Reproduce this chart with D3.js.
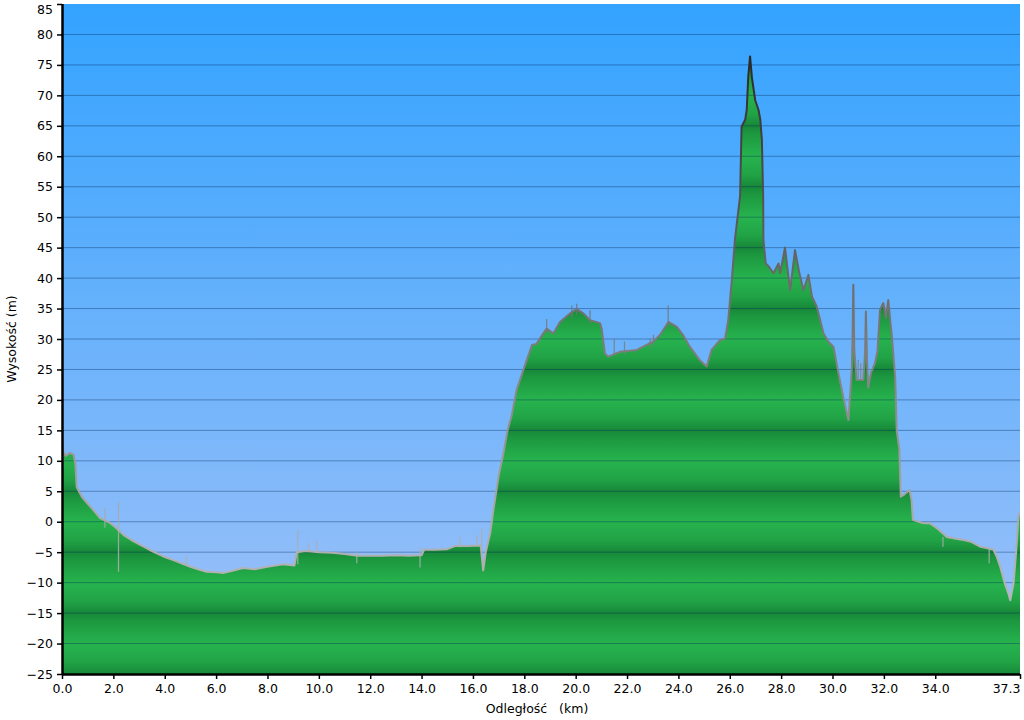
<!DOCTYPE html>
<html><head><meta charset="utf-8">
<script src="https://cdn.jsdelivr.net/npm/d3@7"></script>
<style>
html,body{margin:0;padding:0;background:#fff;}
svg{display:block;font-family:Verdana,"DejaVu Sans",sans-serif;}
</style></head>
<body>
<svg id="chart" width="1024" height="720"></svg>
<script>
// ---- data ----
const distKm = [0.0,0.05,0.15,0.3,0.45,0.52,0.57,0.77,0.95,1.1,1.3,1.48,1.87,2.1,2.4,2.7,3.05,3.4,3.69,4.0,4.33,4.7,5.0,5.3,5.63,6.0,6.3,6.6,7.05,7.5,8.0,8.6,9.05,9.14,9.5,10.0,10.5,11.0,11.5,12.0,12.5,13.0,13.5,14.0,14.1,14.5,15.0,15.3,15.8,16.3,16.4,16.5,16.67,16.8,17.0,17.2,17.35,17.51,17.7,17.96,18.3,18.48,18.61,18.87,19.13,19.39,19.78,20.04,20.3,20.56,20.95,21.01,21.14,21.27,21.73,22.38,23.03,23.29,23.61,23.94,24.2,24.45,24.84,25.1,25.29,25.62,25.82,25.94,26.08,26.2,26.4,26.46,26.6,26.66,26.72,26.79,26.86,26.99,27.12,27.19,27.25,27.3,27.31,27.4,27.5,27.7,27.9,27.96,28.15,28.35,28.54,28.7,28.87,29.06,29.2,29.39,29.65,29.85,30.04,30.23,30.42,30.62,30.75,30.78,30.81,30.85,30.94,31.2,31.27,31.3,31.34,31.39,31.5,31.65,31.75,31.85,31.98,32.08,32.17,32.31,32.44,32.5,32.6,32.66,32.8,33.0,33.08,33.13,33.5,33.8,34.1,34.45,34.8,35.1,35.4,35.75,36.0,36.27,36.4,36.53,36.7,36.85,36.92,37.05,37.15,37.24,37.3];
const elevM = [10.2,11.5,10.8,11.3,11.0,9.5,5.7,4.1,3.2,2.5,1.5,0.6,-0.2,-1.0,-2.2,-3.0,-3.8,-4.6,-5.2,-5.8,-6.3,-6.9,-7.4,-7.8,-8.2,-8.3,-8.4,-8.1,-7.6,-7.8,-7.4,-7.0,-7.2,-5.0,-4.8,-5.0,-5.1,-5.3,-5.6,-5.6,-5.6,-5.5,-5.6,-5.5,-4.6,-4.6,-4.5,-4.0,-4.0,-3.9,-8.0,-5.0,-1.9,2.0,7.5,11.5,15.0,17.5,21.6,24.9,29.0,29.2,30.1,31.7,30.9,32.8,34.2,34.9,34.2,33.1,32.6,31.7,27.6,27.1,27.9,28.2,29.6,30.7,32.8,32.0,30.5,28.7,26.5,25.5,28.2,29.8,30.1,33.1,39.7,46.3,53.4,64.9,66.0,67.6,73.1,76.4,73.0,69.2,67.6,66.0,62.7,53.4,46.3,42.4,42.0,40.8,42.4,40.8,45.0,38.0,44.6,41.0,38.0,40.5,37.0,35.3,30.9,29.5,28.7,24.4,20.5,16.7,24.9,30.0,38.9,28.0,23.3,23.3,28.0,34.5,27.0,22.0,24.5,26.0,28.0,34.8,35.9,33.5,36.4,30.4,23.8,15.0,12.0,4.1,4.5,5.2,3.5,0.3,-0.2,-0.3,-1.2,-2.5,-2.8,-3.0,-3.3,-4.1,-4.3,-4.6,-5.8,-7.4,-10.0,-11.8,-12.9,-10.1,-5.0,0.8,1.5];
// spikes of the raw trace: distance, low, high (m)
const spikeKm   = [0.05,1.67,2.2,4.85,9.18,9.6,9.92,11.48,13.94,15.5,16.15,16.34,18.87,19.85,20.04,20.56,21.5,21.9,22.9,23.03,23.6,31.0,31.1,34.3,36.1];
const spikeLow  = [9.0,-1.0,-8.2,-7.2,-7.0,-5.0,-5.0,-6.8,-7.5,-4.2,-4.0,-4.0,31.0,33.5,34.0,32.5,27.5,27.5,28.5,29.0,32.0,23.5,23.5,-4.1,-6.8];
const spikeHigh = [13.0,2.2,3.3,-5.6,-1.4,-3.4,-3.0,-5.0,-4.2,-2.5,-2.2,-1.1,33.3,35.5,35.8,34.7,30.0,29.6,30.1,30.7,35.5,26.6,26.0,-2.5,-4.5];
const yTicks = d3.range(-25, 86, 5);
const xTicks = [0,2,4,6,8,10,12,14,16,18,20,22,24,26,28,30,32,34,37.3];
const xTitle = "Odległość   (km)";
const yTitle = "Wysokość (m)";

// ---- layout ----
const svg = d3.select("#chart");
const L = 62, R = 1020, T = 4, B = 674;
const x = d3.scaleLinear().domain([0, 37.3]).range([L, R]);
const y = d3.scaleLinear().domain([-25, 85]).range([B, T]);
const defs = svg.append("defs");

// sky gradient
const sky = defs.append("linearGradient").attr("id","sky")
  .attr("gradientUnits","userSpaceOnUse").attr("x1",0).attr("x2",0).attr("y1",T).attr("y2",B);
sky.append("stop").attr("offset","0%").attr("stop-color","#33a3ff");
sky.append("stop").attr("offset","100%").attr("stop-color","#a2c2f8");

// banded green (period 10 m)
const period = y(0) - y(10);
const gg = defs.append("linearGradient").attr("id","greenBand").attr("x1",0).attr("x2",0).attr("y1",0).attr("y2",1);
gg.append("stop").attr("offset","0%").attr("stop-color","#27b34e");
gg.append("stop").attr("offset","30%").attr("stop-color","#21a346");
gg.append("stop").attr("offset","50%").attr("stop-color","#178839");
gg.append("stop").attr("offset","62%").attr("stop-color","#1c973f");
gg.append("stop").attr("offset","100%").attr("stop-color","#27b34e");
const pat = defs.append("pattern").attr("id","greenPat").attr("patternUnits","userSpaceOnUse")
  .attr("x",0).attr("y",y(10)).attr("width",10).attr("height",period);
pat.append("rect").attr("width",10).attr("height",period).attr("fill","url(#greenBand)");

// outline gradient (dark at the top, light gray near the bottom)
const og = defs.append("linearGradient").attr("id","rim")
  .attr("gradientUnits","userSpaceOnUse").attr("x1",0).attr("x2",0).attr("y1",y(80)).attr("y2",y(-15));
og.append("stop").attr("offset","0%").attr("stop-color","#222");
og.append("stop").attr("offset","42%").attr("stop-color","#6a6a6a");
og.append("stop").attr("offset","84%").attr("stop-color","#aaa");
og.append("stop").attr("offset","100%").attr("stop-color","#b8b8b8");

defs.append("clipPath").attr("id","plotClip").append("rect")
  .attr("x",L).attr("y",T).attr("width",R-L).attr("height",B-T);

// background
svg.append("rect").attr("x",L).attr("y",T).attr("width",R-L).attr("height",B-T).attr("fill","url(#sky)");

const pts = distKm.map((d,i)=>({d, e: elevM[i]}));
const g = svg.append("g").attr("clip-path","url(#plotClip)");
g.append("path").datum(pts)
  .attr("d", d3.area().x(p=>x(p.d)).y0(B).y1(p=>y(p.e)))
  .attr("fill","url(#greenPat)");

// gridlines
g.selectAll("line.grid").data(yTicks.filter(v=>v>-25 && v<85)).join("line")
  .attr("class","grid").attr("x1",L).attr("x2",R)
  .attr("y1",v=>y(v)).attr("y2",v=>y(v))
  .attr("stroke","rgba(0,40,90,0.38)").attr("stroke-width",1);

// spikes
g.selectAll("line.spike").data(spikeKm.map((d,i)=>({d, lo: spikeLow[i], hi: spikeHigh[i]}))).join("line")
  .attr("class","spike")
  .attr("x1",s=>x(s.d)).attr("x2",s=>x(s.d)+0.01)
  .attr("y1",s=>y(s.lo)).attr("y2",s=>y(s.hi))
  .attr("stroke","url(#rim)").attr("stroke-width",1.2).attr("opacity",0.85);

// outline
g.append("path").datum(pts)
  .attr("d", d3.line().x(p=>x(p.d)).y(p=>y(p.e)))
  .attr("fill","none").attr("stroke","url(#rim)").attr("stroke-width",2).attr("stroke-linejoin","round");

// axes
const yAxis = svg.append("g").attr("transform",`translate(${L},0)`)
  .call(d3.axisLeft(y).tickValues(yTicks).tickSize(5).tickPadding(4).tickFormat(d3.format("d")));
const xAxis = svg.append("g").attr("transform",`translate(0,${B})`)
  .call(d3.axisBottom(x).tickValues(xTicks).tickSize(5).tickPadding(5).tickFormat(d3.format(".1f")));
[yAxis, xAxis].forEach(a=>{
  a.select(".domain").attr("stroke","#000").attr("stroke-width",2.5);
  a.selectAll(".tick line").attr("stroke","#000").attr("stroke-width",1.5);
  a.selectAll(".tick text").attr("fill","#000").style("font-size","12.5px")
   .style("font-family","Verdana,'DejaVu Sans',sans-serif");
});
xAxis.select(".domain").attr("d",`M${L},0.5H${R}`);
yAxis.select(".domain").attr("d",`M0.5,${T}V${B}`);
// keep the edge labels inside the picture, as in the reference
yAxis.selectAll(".tick").filter(v=>v===85).select("text").attr("dy","0.75em");
xAxis.selectAll(".tick").filter(v=>v===37.3).select("text").attr("text-anchor","end").attr("x",0);

svg.append("text").attr("x",(L+R)/2 - 4).attr("y",713).attr("text-anchor","middle")
  .style("font-size","12.5px").style("white-space","pre").attr("xml:space","preserve").text(xTitle);
svg.append("text").attr("transform",`translate(16,${(T+B)/2}) rotate(-90)`).attr("text-anchor","middle")
  .style("font-size","12.5px").text(yTitle);
</script>
</body></html>
